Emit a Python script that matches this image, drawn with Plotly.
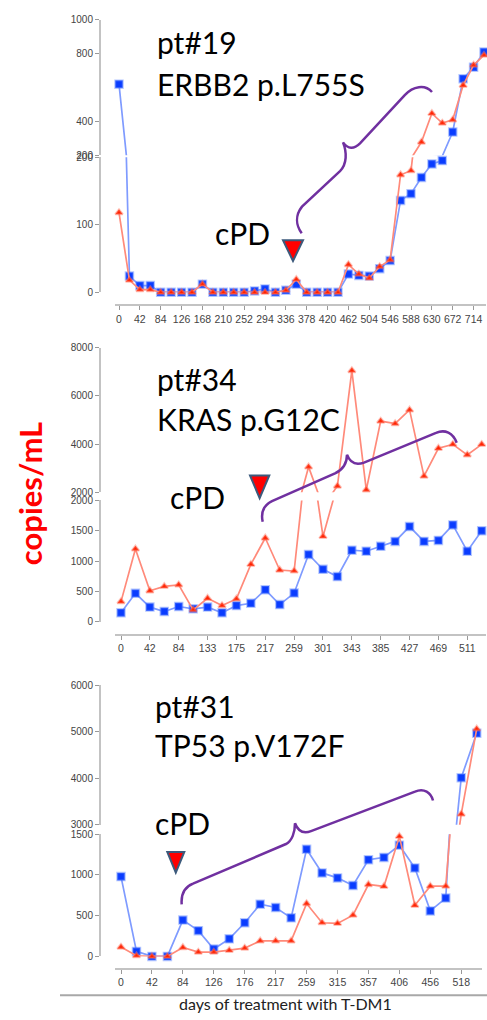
import plotly.graph_objects as go

W, H = 487, 1020

# ---------------- data ----------------
p1_days = [0, 21, 42, 63, 84, 105, 126, 147, 168, 189, 210, 231, 252, 273, 294, 315, 336, 357,
           378, 399, 420, 441, 462, 483, 504, 525, 546, 567, 588, 609, 630, 651, 672, 693, 714, 735]
p1_blue = [620, 24, 10, 10, 0, 0, 0, 0, 12, 0, 0, 0, 0, 2, 5, 0, 3, 12,
           0, 0, 0, 0, 27, 25, 24, 35, 47, 136, 146, 170, 190, 195, 337, 652, 720, 810]
p1_red = [118, 18, 4, 4, 0, 0, 0, 0, 12, 0, 0, 0, 0, 0, 0, 0, 3, 19,
          0, 0, 0, 0, 41, 27, 21, 38, 48, 174, 180, 278, 447, 390, 409, 613, 733, 791]
p1_ticklabels = [0, 42, 84, 126, 168, 210, 252, 294, 336, 378, 420, 462, 504, 546, 588, 630, 672, 714]

p2_days = [0, 21, 42, 63, 84, 105, 133, 154, 175, 196, 217, 238, 259, 280, 301, 322, 343, 364,
           385, 406, 427, 448, 469, 490, 511, 532]
p2_blue = [147, 467, 240, 168, 250, 212, 240, 147, 266, 304, 527, 282, 472, 1108, 863, 744, 1178, 1162,
           1243, 1324, 1569, 1324, 1340, 1596, 1162, 1499]
p2_red = [331, 1200, 510, 581, 608, 195, 386, 266, 375, 945, 1380, 852, 836, 3050, 1406, 2257, 7049, 2100,
          4951, 4845, 5416, 2665, 3824, 3988, 3551, 3988]
p2_ticklabels = [0, 42, 84, 133, 175, 217, 259, 301, 343, 385, 427, 469, 511]

p3_days = [0, 21, 42, 63, 84, 105, 126, 147, 176, 196, 217, 238, 259, 287, 315, 336, 357, 378,
           406, 427, 456, 490, 518, 539]
p3_blue = [979, 61, 0, 0, 445, 316, 90, 215, 413, 640, 600, 473, 1315, 1024, 963, 870, 1186, 1214,
           1364, 1085, 558, 716, 4011, 4968]
p3_red = [114, 8, 0, 0, 109, 53, 53, 73, 102, 190, 190, 190, 648, 413, 405, 506, 882, 858,
          1472, 627, 862, 862, 3230, 5060]
p3_ticklabels = [0, 42, 84, 126, 176, 217, 259, 315, 357, 406, 456, 518]

titles = [("pt#19", "ERBB2 p.L755S"), ("pt#34", "KRAS p.G12C"), ("pt#31", "TP53 p.V172F")]

# ---------------- helpers ----------------
def fx(p):
    return p / W


def fy(p):
    return 1 - p / H


BLUE_M = "#0a3cff"
BLUE_L = "#7f9bff"
RED_M = "#ff2200"
RED_L = "#ff8a7a"
AXIS_C = "#c3c3c3"
TICKFONT = dict(family="Arial, Liberation Sans, sans-serif", size=10, color="#444")

panels = [
    dict(days=p1_days, blue=p1_blue, red=p1_red, ticks=p1_ticklabels, brk=200,
         up_range=[200, 1000], up_ticks=[200, 400, 800, 1000], lo_range=[0, 200], lo_ticks=[0, 100, 200],
         up_dom=(14, 151), lo_dom=(153, 289.7), xline=302.7, xdom=(115, 486), first=119, last=484),
    dict(days=p2_days, blue=p2_blue, red=p2_red, ticks=p2_ticklabels, brk=2000,
         up_range=[2000, 8000], up_ticks=[2000, 4000, 6000, 8000], lo_range=[0, 2000],
         lo_ticks=[0, 500, 1000, 1500, 2000],
         up_dom=(345.7, 492), lo_dom=(500.3, 623), xline=636, xdom=(115, 486), first=121, last=481.7),
    dict(days=p3_days, blue=p3_blue, red=p3_red, ticks=p3_ticklabels, brk=1500,
         up_range=[3000, 6000], up_ticks=[3000, 4000, 5000, 6000], lo_range=[0, 1500],
         lo_ticks=[0, 500, 1000, 1500],
         up_dom=(687.3, 828.5), lo_dom=(838, 961.7), xline=974, xdom=(115, 482), first=121, last=476.7),
]

fig = go.Figure()
layout = {}

for k, p in enumerate(panels):
    xn = "x" if k == 0 else f"x{k + 1}"
    yu = f"y{2 * k + 1}" if k > 0 else "y"
    yl = f"y{2 * k + 2}"
    cats = [str(d) for d in p["days"]]
    n = len(cats)
    sp = (p["last"] - p["first"]) / (n - 1)
    xr = [(p["xdom"][0] - p["first"]) / sp, (p["xdom"][1] - p["first"]) / sp]

    xkey = "xaxis" if k == 0 else f"xaxis{k + 1}"
    layout[xkey] = dict(
        type="category", categoryorder="array", categoryarray=cats, range=xr,
        domain=[fx(p["xdom"][0]), fx(p["xdom"][1])], anchor="free", position=fy(p["xline"]),
        tickmode="array", tickvals=[str(t) for t in p["ticks"]], ticktext=[str(t) for t in p["ticks"]],
        ticks="outside", ticklen=4, tickcolor="#999", showline=True, linecolor=AXIS_C, linewidth=2,
        showgrid=False, zeroline=False, tickfont=dict(TICKFONT, size=10.5), tickangle=0,
    )
    for ykey, rng, tv, dom in [
        ("yaxis" if k == 0 else f"yaxis{2 * k + 1}", p["up_range"], p["up_ticks"], p["up_dom"]),
        (f"yaxis{2 * k + 2}", p["lo_range"], p["lo_ticks"], p["lo_dom"]),
    ]:
        layout[ykey] = dict(
            range=rng, domain=[fy(dom[1]), fy(dom[0])], anchor="free", position=fx(100),
            tickmode="array", tickvals=tv, ticks="outside", ticklen=4, tickcolor="#999",
            showline=True, linecolor=AXIS_C, linewidth=2, showgrid=False, zeroline=False,
            tickfont=TICKFONT,
        )

    for vals, lc, mc, sym, size, halo in [
        (p["blue"], BLUE_L, BLUE_M, "square", 7.5, "rgba(90,130,255,0.45)"),
        (p["red"], RED_L, RED_M, "triangle-up", 6.5, "rgba(255,120,100,0.45)"),
    ]:
        # connecting lines on both segments of the broken axis
        for ya in (yu, yl):
            fig.add_trace(go.Scatter(x=cats, y=vals, mode="lines", xaxis=xn, yaxis=ya,
                                     line=dict(color=lc, width=1.7), showlegend=False,
                                     hoverinfo="skip"))
        # markers on the segment they belong to
        up_x = [c for c, v in zip(cats, vals) if v > p["brk"]]
        up_y = [v for v in vals if v > p["brk"]]
        lo_x = [c for c, v in zip(cats, vals) if v <= p["brk"]]
        lo_y = [v for v in vals if v <= p["brk"]]
        for xs, ys, ya in ((up_x, up_y, yu), (lo_x, lo_y, yl)):
            fig.add_trace(go.Scatter(x=xs, y=ys, mode="markers", xaxis=xn, yaxis=ya, cliponaxis=False,
                                     marker=dict(symbol=sym, size=size, color=mc,
                                                 line=dict(width=2, color=halo)),
                                     showlegend=False))

# ---------------- annotations ----------------
TXT = dict(family="Lato, Carlito, sans-serif", size=30, color="#000")
ann = []
text_pos = [((155, 36.5), (155, 78.5), (213, 230)),
            ((155, 377), (155, 418), (168, 497)),
            ((153, 708), (153, 748), (153, 827))]
for (t1, t2), (a, b, c) in zip(titles, text_pos):
    for txt, (x, y) in ((t1, a), (t2, b), ("cPD", c)):
        ann.append(dict(text=txt, x=fx(x), y=fy(y), xref="paper", yref="paper", xanchor="left",
                        yanchor="middle", showarrow=False, font=TXT))

ann.append(dict(text="<b>copies/mL</b>", x=fx(30), y=fy(494), xref="paper", yref="paper",
                textangle=-90, showarrow=False, xanchor="center", yanchor="middle",
                font=dict(family="Lato, sans-serif", size=31, color="#ff0000")))
ann.append(dict(text="days of treatment with T-DM1", x=fx(285), y=fy(1009), xref="paper", yref="paper",
                showarrow=False, xanchor="center", yanchor="middle",
                font=dict(family="Lato, Carlito, sans-serif", size=16, color="#222")))


# ---------------- shapes: braces, arrows, baseline ----------------
def path(cmds):
    out = []
    for c in cmds:
        if isinstance(c, str):
            out.append(c)
        else:
            out.append(f"{fx(c[0]):.5f},{fy(c[1]):.5f}")
    return " ".join(out)


braces = [
    ["M", (301.7, 230), "C", (296, 222), (295, 212), (302, 203), "L", (340, 167),
     "C", (347, 160), (347, 148), (343, 138), "C", (348, 145), (354, 145), (360, 139),
     "L", (405, 90), "C", (413, 81), (425, 79), (432, 87)],
    ["M", (262.7, 522), "C", (261, 514), (262, 506), (272, 501), "L", (335, 473),
     "C", (343, 469), (347, 462), (347, 454), "C", (350, 462), (356, 465), (364, 462),
     "L", (436, 432), "C", (445, 428), (453, 432), (456.7, 442)],
    ["M", (181.7, 909), "C", (181, 900), (183, 892), (193, 888), "L", (286, 848),
     "C", (292, 845), (295, 836), (295, 827), "C", (298, 835), (303, 838), (311, 835),
     "L", (415, 795), "C", (424, 791), (431, 796), (433, 804)],
]
shapes = []
for b in braces:
    shapes.append(dict(type="path", xref="paper", yref="paper", path=path(b),
                       line=dict(color="#7030a0", width=2.5)))

tris = [(283, 303, 237, 258), (250, 269.3, 475, 498), (167.3, 184.3, 856, 877)]
for x0, x1, t, bt in tris:
    shapes.append(dict(type="path", xref="paper", yref="paper",
                       path=path(["M", (x0, t), "L", (x1, t), "L", ((x0 + x1) / 2, bt), "Z"]),
                       fillcolor="#ff0000", line=dict(color="#3c5a7c", width=2)))

shapes.append(dict(type="line", xref="paper", yref="paper", x0=fx(60), x1=fx(487), y0=fy(1001),
                   y1=fy(1001), line=dict(color="#a8a8a8", width=2)))

fig.update_layout(
    width=W, height=H, margin=dict(l=0, r=0, t=0, b=0), paper_bgcolor="white", plot_bgcolor="white",
    showlegend=False, annotations=ann, shapes=shapes, hovermode=False, **layout,
)

fig.write_html("out.html", config={"displayModeBar": False, "staticPlot": True},
               post_script="document.body.style.margin='0px';document.body.style.padding='0px';"
                           "document.body.style.overflow='hidden';")
